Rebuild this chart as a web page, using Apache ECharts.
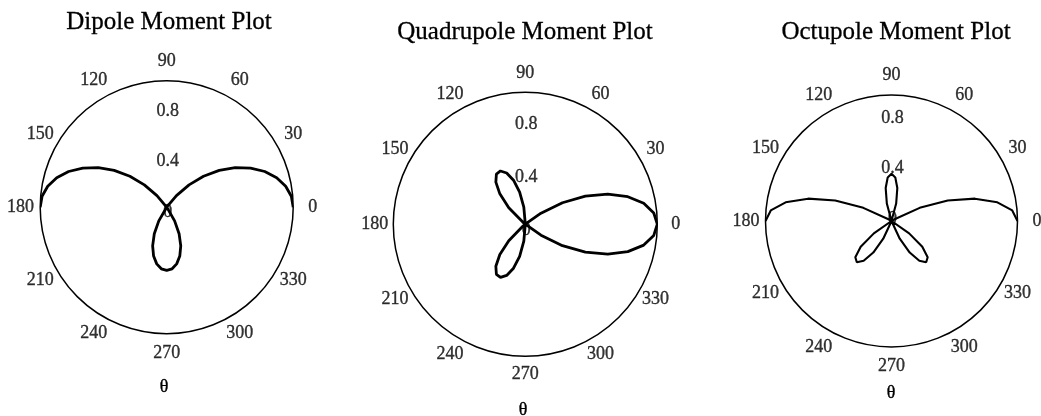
<!DOCTYPE html>
<html>
<head>
<meta charset="utf-8">
<script src="https://cdn.jsdelivr.net/npm/echarts@6/dist/echarts.min.js"></script>
<style>
  html, body { margin: 0; padding: 0; background: #fff; }
  #chart { width: 1041px; height: 416px; }
</style>
</head>
<body>
<div id="chart"></div>
<script>
// Polar direction (degrees) and radius of each traced point; lobes of
// negative sign are drawn in the opposite direction.
const dipoleAngle = [0, 5, 10, 15, 20, 25, 30, 35, 40, 45, 50, 54.7,
  235, 240, 245, 250, 255, 260, 265, 270, 275, 280, 285, 290, 295, 300, 305,
  125.3, 130, 135, 140, 145, 150, 155, 160, 165, 170, 175, 180];
const dipoleR = [1, 0.989, 0.955, 0.900, 0.825, 0.732, 0.625, 0.507, 0.380, 0.250, 0.120, 0,
  0.007, 0.125, 0.232, 0.325, 0.400, 0.455, 0.489, 0.5, 0.489, 0.455, 0.400, 0.325, 0.232, 0.125, 0.007,
  0, 0.120, 0.250, 0.380, 0.507, 0.625, 0.732, 0.825, 0.900, 0.955, 0.989, 1];

const quadAngle = [0, 5, 10, 15, 20, 25, 30, 35, 39.2,
  220, 225, 230, 235, 240, 245, 250, 255, 260, 265, 270,
  95, 100, 105, 110, 115, 120, 125, 130, 135, 140, 140.8,
  325, 330, 335, 340, 345, 350, 355, 360];
const quadR = [1, 0.977, 0.911, 0.804, 0.665, 0.502, 0.325, 0.145, 0,
  0.025, 0.177, 0.300, 0.389, 0.438, 0.445, 0.413, 0.345, 0.247, 0.129, 0,
  0.129, 0.247, 0.345, 0.413, 0.445, 0.438, 0.389, 0.300, 0.177, 0.025, 0,
  0.145, 0.325, 0.502, 0.665, 0.804, 0.911, 0.977, 1];

const octAngle = [0, 5, 10, 15, 20, 25, 30, 30.6,
  215, 220, 225, 230, 235, 240, 245, 250, 250.1,
  75, 80, 85, 90, 95, 100, 105, 109.9,
  290, 295, 300, 305, 310, 315, 320, 325, 329.4,
  150, 155, 160, 165, 170, 175, 180];
const octR = [1, 0.962, 0.853, 0.685, 0.475, 0.247, 0.023, 0,
  0.171, 0.319, 0.406, 0.428, 0.385, 0.289, 0.155, 0.004, 0,
  0.143, 0.266, 0.347, 0.375, 0.347, 0.266, 0.143, 0,
  0.004, 0.155, 0.289, 0.385, 0.428, 0.406, 0.319, 0.171, 0,
  0.023, 0.247, 0.475, 0.685, 0.853, 0.962, 1];

const angleTicks = [0, 30, 60, 90, 120, 150, 180, 210, 240, 270, 300, 330];
const angleLabels = ['0', '30', '60', '90', '120', '150', '180', '210', '240', '270', '300', '330'];
const radiusTicks = [0, 0.4, 0.8];
const radiusTickLabels = ['0', '0.4', '0.8'];
const titles = ['Dipole Moment Plot', 'Quadrupole Moment Plot', 'Octupole Moment Plot'];
const axisName = 'θ';

const FONT = '"Liberation Serif", "Times New Roman", Times, serif';

const panels = [
  { angle: dipoleAngle, r: dipoleR, center: [166.7, 207.2], radius: 126.5,
    labelRing: 1.155, tickShift: 5,
    titleXY: [169, 22], nameXY: [164, 387], width: 2.8 },
  { angle: quadAngle, r: quadR, center: [525.3, 224.2], radius: 132,
    labelRing: 1.14, tickShift: 6,
    titleXY: [525, 32], nameXY: [523, 410], width: 2.8 },
  { angle: octAngle, r: octR, center: [891.5, 221], radius: 126,
    labelRing: 1.155, tickShift: -2,
    titleXY: [896, 32], nameXY: [891, 393], width: 2.1 }
];

const chart = echarts.init(document.getElementById('chart'), null, { renderer: 'canvas' });

const textLabel = {
  show: true,
  position: 'inside',
  color: '#000',
  fontFamily: FONT,
  fontSize: 18,
  textBorderColor: '#000',
  textBorderWidth: 0.35
};

const series = [];
panels.forEach((p, i) => {
  // moment curve
  series.push({
    type: 'line',
    coordinateSystem: 'polar',
    polarIndex: i,
    data: p.r.map((r, k) => [r, p.angle[k]]),
    symbol: 'none',
    smooth: false,
    clip: false,
    silent: true,
    z: 3,
    lineStyle: { color: '#000', width: p.width }
  });
  // radial tick values along the 90° direction
  series.push({
    type: 'scatter',
    coordinateSystem: 'polar',
    polarIndex: i,
    data: radiusTicks.map(v => [v, 90]),
    symbolSize: 1,
    silent: true,
    z: 2,
    itemStyle: { color: 'rgba(0,0,0,0)' },
    label: Object.assign({}, textLabel, {
      offset: [1, p.tickShift],
      formatter: q => radiusTickLabels[q.dataIndex]
    })
  });
  // angle tick values around the rim
  series.push({
    type: 'scatter',
    coordinateSystem: 'polar',
    polarIndex: i,
    data: angleTicks.map(a => [p.labelRing, a]),
    symbolSize: 1,
    clip: false,
    silent: true,
    z: 2,
    itemStyle: { color: 'rgba(0,0,0,0)' },
    label: Object.assign({}, textLabel, {
      formatter: q => angleLabels[q.dataIndex]
    })
  });
});

const graphic = [];
panels.forEach((p, i) => {
  graphic.push({
    type: 'text', x: p.titleXY[0], y: p.titleXY[1], silent: true,
    style: { text: titles[i], font: '25px ' + FONT, fill: '#000',
      stroke: '#000', lineWidth: 0.3,
      align: 'center', verticalAlign: 'middle', textAlign: 'center', textVerticalAlign: 'middle' }
  });
  graphic.push({
    type: 'text', x: p.nameXY[0], y: p.nameXY[1], silent: true,
    style: { text: axisName, font: '18px ' + FONT, fill: '#000',
      stroke: '#000', lineWidth: 0.35,
      align: 'center', verticalAlign: 'middle', textAlign: 'center', textVerticalAlign: 'middle' }
  });
});

chart.setOption({
  backgroundColor: '#fff',
  animation: false,
  polar: panels.map(p => ({ center: p.center, radius: p.radius })),
  angleAxis: panels.map((p, i) => ({
    polarIndex: i,
    type: 'value',
    min: 0,
    max: 360,
    interval: 30,
    startAngle: 0,
    clockwise: false,
    axisLine: { show: true, lineStyle: { color: '#000', width: 1.5 } },
    axisTick: { show: false },
    splitLine: { show: false },
    axisLabel: { show: false }
  })),
  radiusAxis: panels.map((p, i) => ({
    polarIndex: i,
    type: 'value',
    min: 0,
    max: 1,
    axisLine: { show: false },
    axisTick: { show: false },
    axisLabel: { show: false },
    splitLine: { show: false }
  })),
  series: series,
  graphic: graphic
});
</script>
</body>
</html>
